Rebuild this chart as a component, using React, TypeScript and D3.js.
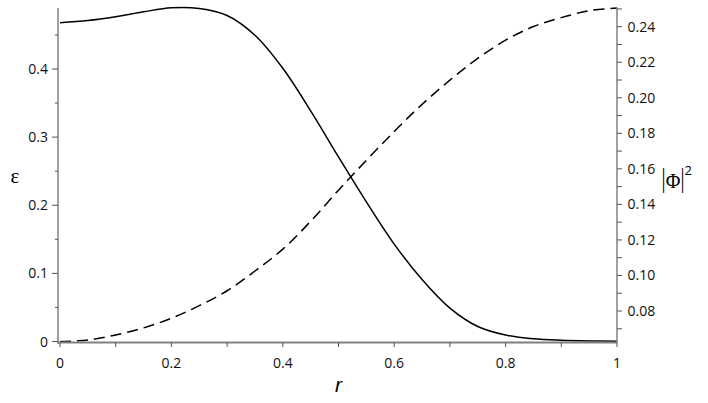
import React from "react";
import * as d3 from "d3";

const rValues = [0, 0.05, 0.1, 0.15, 0.2, 0.25, 0.3, 0.35, 0.4, 0.45, 0.5, 0.55, 0.6, 0.65, 0.7, 0.75, 0.8, 0.85, 0.9, 0.95, 1.0];
const epsilonValues = [0.468, 0.4712, 0.4768, 0.484, 0.4898, 0.4888, 0.4785, 0.4495, 0.401, 0.3385, 0.271, 0.205, 0.143, 0.091, 0.049, 0.022, 0.0095, 0.004, 0.0018, 0.0008, 0.0004];
const phiSqValues = [0.0628, 0.0637, 0.0665, 0.0705, 0.0759, 0.083, 0.0914, 0.1025, 0.1148, 0.1305, 0.148, 0.1648, 0.181, 0.1963, 0.2099, 0.2222, 0.2324, 0.2401, 0.2451, 0.249, 0.2505];

const xTicks = [0, 0.1, 0.2, 0.3, 0.4, 0.5, 0.6, 0.7, 0.8, 0.9, 1];
const xTickLabels = ["0", "", "0.2", "", "0.4", "", "0.6", "", "0.8", "", "1"];
const leftMajorTicks = [0, 0.1, 0.2, 0.3, 0.4];
const leftMajorLabels = ["0", "0.1", "0.2", "0.3", "0.4"];
const leftMinorTicks = [0.05, 0.15, 0.25, 0.35, 0.45];
const rightTicks = [0.07, 0.08, 0.09, 0.1, 0.11, 0.12, 0.13, 0.14, 0.15, 0.16, 0.17, 0.18, 0.19, 0.2, 0.21, 0.22, 0.23, 0.24, 0.25];
const rightLabelTicks = [0.08, 0.1, 0.12, 0.14, 0.16, 0.18, 0.2, 0.22, 0.24];
const rightLabels = ["0.08", "0.10", "0.12", "0.14", "0.16", "0.18", "0.20", "0.22", "0.24"];

export default function App() {
  const x = d3.scaleLinear().domain([0, 1]).range([60, 617]);
  const yL = d3.scaleLinear().domain([0, 0.4]).range([341.5, 69]);
  const yR = d3.scaleLinear().domain([0.08, 0.24]).range([311, 26.7]);

  const epsData = rValues.map((r, i) => [r, epsilonValues[i]] as [number, number]);
  const phiData = rValues.map((r, i) => [r, phiSqValues[i]] as [number, number]);

  const epsLine = d3
    .line<[number, number]>()
    .x((d) => x(d[0]))
    .y((d) => yL(d[1]))
    .curve(d3.curveCatmullRom.alpha(0.5));
  const phiLine = d3
    .line<[number, number]>()
    .x((d) => x(d[0]))
    .y((d) => yR(d[1]))
    .curve(d3.curveCatmullRom.alpha(0.5));

  const axisColor = "#808080";
  const tickColor = "#555";
  const labelFont = "'Open Sans', 'Noto Sans', sans-serif";

  return (
    <svg
      width={708}
      height={403}
      style={{ position: "absolute", left: 0, top: 0, background: "#fff" }}
    >
      <rect x={0} y={0} width={708} height={403} fill="#fff" />
      {/* curves */}
      <path d={epsLine(epsData) || ""} fill="none" stroke="#000" strokeWidth={1.5} />
      <path
        d={phiLine(phiData) || ""}
        fill="none"
        stroke="#000"
        strokeWidth={1.5}
        strokeDasharray="11,6"
      />

      {/* left axis */}
      <line x1={58} y1={8} x2={58} y2={344} stroke={axisColor} strokeWidth={1.5} />
      {leftMajorTicks.map((t, i) => (
        <g key={"lm" + i}>
          <line x1={52} x2={58} y1={yL(t)} y2={yL(t)} stroke={tickColor} strokeWidth={1} />
          <text
            x={48}
            y={yL(t) + 5}
            textAnchor="end"
            fontFamily={labelFont}
            fontSize={14}
            fill="#111"
          >
            {leftMajorLabels[i]}
          </text>
        </g>
      ))}
      {leftMinorTicks.map((t, i) => (
        <line key={"ln" + i} x1={55} x2={58} y1={yL(t)} y2={yL(t)} stroke={tickColor} strokeWidth={1} />
      ))}

      {/* bottom axis */}
      <line x1={58} y1={342.5} x2={617} y2={342.5} stroke={axisColor} strokeWidth={2} />
      {xTicks.map((t, i) => (
        <g key={"x" + i}>
          <line x1={x(t)} x2={x(t)} y1={342.5} y2={347} stroke={tickColor} strokeWidth={1} />
          {xTickLabels[i] !== "" && (
            <text
              x={x(t)}
              y={368}
              textAnchor="middle"
              fontFamily={labelFont}
              fontSize={14}
              fill="#111"
            >
              {xTickLabels[i]}
            </text>
          )}
        </g>
      ))}

      {/* right axis */}
      <line x1={617} y1={7.5} x2={617} y2={343} stroke={axisColor} strokeWidth={1.5} />
      {rightTicks.map((t, i) => (
        <line key={"r" + i} x1={617} x2={622} y1={yR(t)} y2={yR(t)} stroke={tickColor} strokeWidth={1} />
      ))}
      {rightLabelTicks.map((t, i) => (
        <text
          key={"rl" + i}
          x={627.5}
          y={yR(t) + 5}
          textAnchor="start"
          fontFamily={labelFont}
          fontSize={14}
          fill="#111"
        >
          {rightLabels[i]}
        </text>
      ))}

      {/* axis titles */}
      <text
        x={15}
        y={183}
        textAnchor="middle"
        fontFamily="'Liberation Serif', serif"
        fontSize={21}
        fill="#000"
      >
        ε
      </text>
      <text
        x={338.5}
        y={392}
        textAnchor="middle"
        fontFamily="'Liberation Sans', sans-serif"
        fontStyle="italic"
        fontSize={21}
        fill="#000"
      >
        r
      </text>
      <g fill="#000">
        <text
          transform="translate(663.5,186.5) scale(0.5,1)"
          textAnchor="middle"
          fontFamily="'DejaVu Sans', sans-serif"
          fontSize={24}
        >
          |
        </text>
        <text
          x={673}
          y={188}
          textAnchor="middle"
          fontFamily="'Liberation Serif', serif"
          fontSize={20}
        >
          Φ
        </text>
        <text
          transform="translate(682.5,186.5) scale(0.5,1)"
          textAnchor="middle"
          fontFamily="'DejaVu Sans', sans-serif"
          fontSize={24}
        >
          |
        </text>
        <text x={684.5} y={175} fontFamily={labelFont} fontSize={13}>
          2
        </text>
      </g>
    </svg>
  );
}
